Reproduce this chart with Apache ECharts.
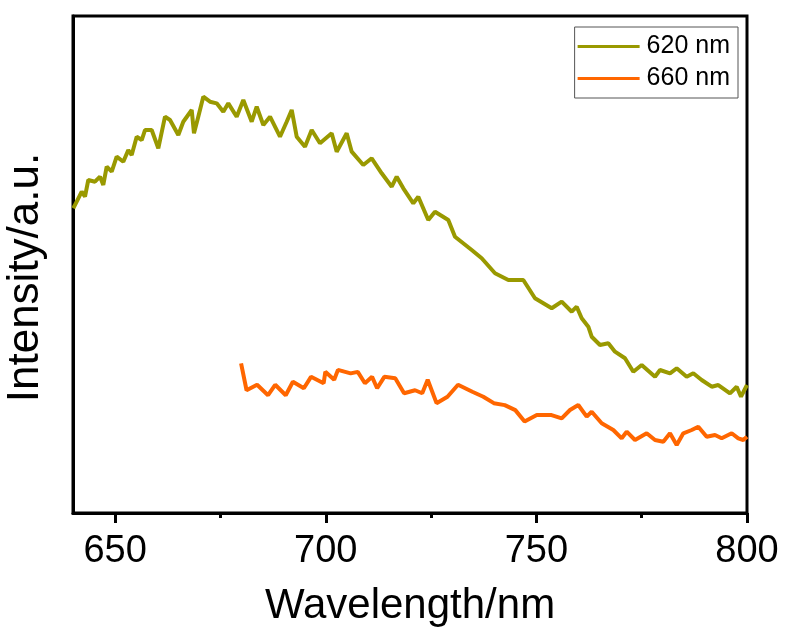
<!DOCTYPE html>
<html><head><meta charset="utf-8">
<script src="https://cdn.jsdelivr.net/npm/echarts@6/dist/echarts.min.js"></script>
<style>html,body{margin:0;padding:0;background:#fff}#c{width:785px;height:630px}</style>
</head><body><div id="c"></div>
<script>
const majorTicks = [650, 700, 750, 800];
const minorTicks = [675, 725, 775];
const seriesNames = ['620 nm', '660 nm'];
const wl620 = [640.07,640.88,642.07,642.85,643.63,645.22,646.41,647.19,648.00,649.19,650.37,651.94,653.13,653.93,655.12,656.31,657.09,658.68,660.25,661.84,663.03,665.00,666.18,668.18,668.72,669.74,670.93,672.52,674.11,675.68,676.87,678.86,680.43,682.42,683.61,685.18,686.77,689.14,690.73,691.92,693.10,695.07,696.66,698.63,701.41,702.60,704.97,706.16,708.91,710.91,713.28,715.66,716.84,718.41,720.78,721.97,724.34,725.93,729.09,730.68,734.65,737.02,740.18,743.34,746.90,749.67,753.64,756.01,758.39,759.57,760.76,762.33,763.13,765.10,767.08,768.66,771.04,773.01,775.00,778.16,779.35,781.72,783.31,785.68,787.25,789.24,791.62,793.19,795.96,797.55,798.58,800.00];
const int620 = [61.31,62.64,64.65,63.64,67.00,66.66,67.67,66.00,69.68,68.67,71.69,70.68,73.04,72.03,75.71,75.05,77.06,77.06,73.38,79.74,79.07,76.06,78.73,81.09,76.40,79.74,83.76,82.76,82.43,80.74,82.43,79.74,83.10,78.73,81.75,78.07,79.74,75.71,78.73,81.09,75.71,73.70,77.06,74.39,76.40,72.70,76.40,72.70,70.02,71.37,68.35,65.65,67.67,65.33,62.31,63.64,58.95,60.62,58.95,55.59,52.92,51.25,48.23,46.88,46.88,43.20,41.19,42.52,40.50,41.51,39.17,37.49,35.47,33.80,34.14,32.46,31.13,28.43,29.78,27.42,28.77,28.11,29.11,27.42,28.11,26.76,25.41,25.75,24.08,25.41,23.40,25.75];
const wl660 = [679.9,681.2,683.7,686.3,688.0,690.5,692.2,694.8,696.5,699.5,699.9,702.0,702.9,705.9,707.6,709.3,711.0,712.2,713.9,716.5,718.6,721.2,722.9,724.2,726.3,728.9,731.4,734.8,737.4,739.9,742.5,745.0,747.2,750.1,753.6,756.01,757.98,759.95,761.95,763.13,765.51,768.26,770.25,771.44,773.41,776.19,778.16,780.13,781.72,783.31,784.88,786.87,788.44,790.43,792.40,793.99,796.37,797.93,799.12,800.0];
const int660 = [30.1,24.7,25.8,23.7,25.8,23.7,26.4,25.1,27.4,26.1,28.4,26.8,28.8,28.1,28.4,26.1,27.4,25.1,27.4,27.1,24.1,24.7,24.1,26.8,22.1,23.4,25.8,24.4,23.4,22.1,21.7,20.7,18.4,19.7,19.7,19.05,20.72,21.73,19.38,20.38,18.05,16.70,15.03,16.36,14.69,16.04,14.69,14.35,16.04,13.68,16.04,16.70,17.36,15.35,15.69,15.03,16.04,15.03,14.69,15.35];

const zip = (a, b) => a.map((v, i) => [v, b[i]]);
const FONT = 'Liberation Sans, Arial, sans-serif';
const chart = echarts.init(document.getElementById('c'), null, {renderer: 'canvas'});
chart.setOption({
  animation: false,
  backgroundColor: '#fff',
  grid: {left: 73, right: 38, top: 16, bottom: 117, show: true, borderColor: '#000', borderWidth: 3,
         containLabel: false, outerBoundsMode: 'none'},
  legend: {
    orient: 'vertical', right: 47, top: 27,
    data: seriesNames.map(n => ({name: n, icon: 'rect'})),
    itemWidth: 62, itemHeight: 3, itemGap: 7,
    padding: [7, 8, 7, 3],
    borderColor: '#555', borderWidth: 1,
    textStyle: {fontFamily: FONT, fontSize: 25, color: '#000', padding: [0, 0, 0, 2]}
  },
  xAxis: [{
    type: 'value', min: 640, max: 800,
    axisLine: {show: true, lineStyle: {color: '#000', width: 3}},
    axisTick: {show: true, inside: false, length: 10, customValues: majorTicks, lineStyle: {color: '#000', width: 3}},
    splitLine: {show: false},
    axisLabel: {fontFamily: FONT, fontSize: 38, color: '#000', margin: 20, customValues: majorTicks},
    name: 'Wavelength/nm', nameLocation: 'middle', nameGap: 72,
    nameTextStyle: {fontFamily: FONT, fontSize: 42, color: '#000'}
  }, {
    type: 'value', min: 640, max: 800, position: 'bottom',
    axisLine: {show: false},
    axisTick: {show: true, inside: false, length: 5, customValues: minorTicks, lineStyle: {color: '#000', width: 3}},
    axisLabel: {show: false}, splitLine: {show: false}
  }],
  yAxis: {
    type: 'value', min: 0, max: 100,
    axisLine: {show: true, lineStyle: {color: '#000', width: 3}},
    axisTick: {show: false}, axisLabel: {show: false}, splitLine: {show: false},
    name: 'Intensity/a.u.', nameLocation: 'middle', nameGap: 25,
    nameTextStyle: {fontFamily: FONT, fontSize: 44, color: '#000', padding: [0, 26, 0, 0]}
  },
  series: [
    {name: seriesNames[0], type: 'line', data: zip(wl620, int620), showSymbol: false,
     lineStyle: {color: '#999900', width: 4}, itemStyle: {color: '#999900'}},
    {name: seriesNames[1], type: 'line', data: zip(wl660, int660), showSymbol: false,
     lineStyle: {color: '#ff6600', width: 4}, itemStyle: {color: '#ff6600'}}
  ]
});
</script></body></html>
